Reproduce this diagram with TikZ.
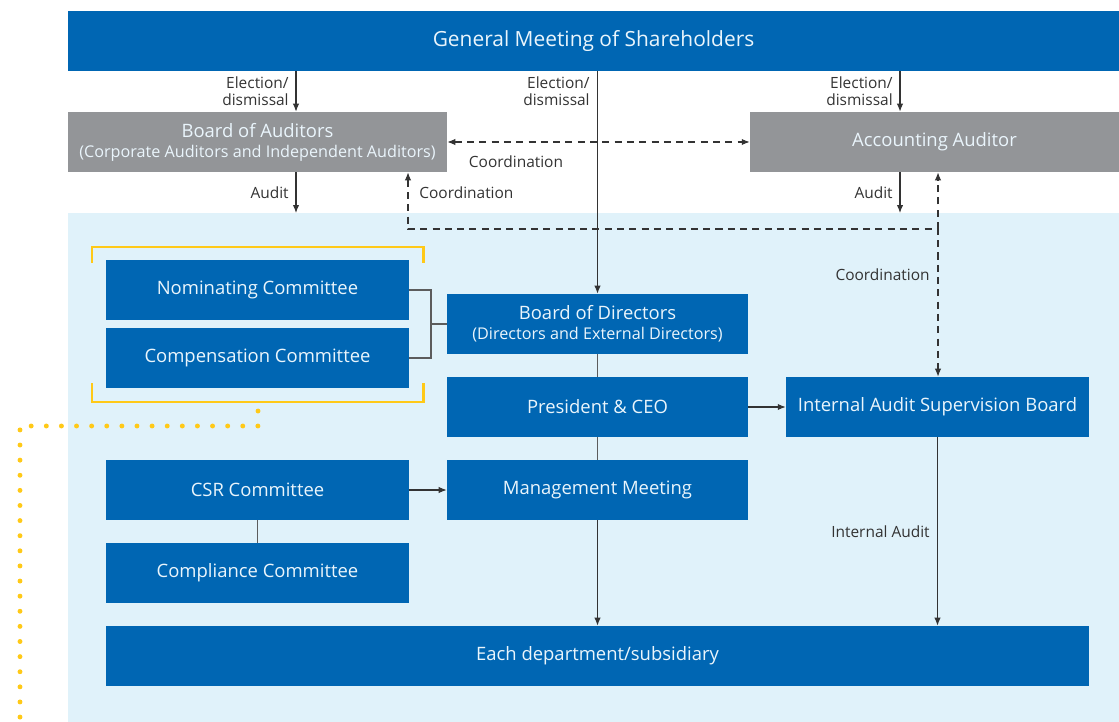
\documentclass[tikz,border=0pt]{standalone}
\usepackage{fontspec}
\setmainfont{Open Sans}
\usepackage{tikz}
\usetikzlibrary{arrows.meta,positioning,calc}
\usepackage{xcolor}
\definecolor{CGblue}{HTML}{0066B3}
\definecolor{CGlightblue}{HTML}{E0F2FA}
\definecolor{CGgray}{HTML}{939598}
\definecolor{CGyellow}{HTML}{FFC917}
\definecolor{CGtext}{HTML}{333333}
\definecolor{CGwhite}{HTML}{EAF5FC}

\begin{document}
\begin{tikzpicture}[
    orgbox/.style={fill=CGblue,text=CGwhite,minimum height=1.2cm,inner sep=0pt,align=center,font=\fontsize{10.5}{12.5}\selectfont},
    graybox/.style={orgbox,fill=CGgray},
    lbl/.style={text=CGtext,font=\fontsize{8.8}{10}\selectfont,inner sep=0pt,align=right},
    arr/.style={draw=CGtext,line width=0.6pt,-{Latex[length=4.5pt,width=3.6pt]}},
    link/.style={draw=CGtext!80,line width=0.6pt},
    coordline/.style={draw=CGtext,line width=0.6pt,dashed,dash pattern=on 4pt off 3pt}
  ]
  \useasboundingbox (0,0) rectangle (22.38,-14.44);
  % background of the executive area
  \node[fill=CGlightblue,minimum width=21.02cm,minimum height=10.18cm,inner sep=0pt,anchor=north west] (bg) at (1.36,-4.26) {};

  % top row
  \node[orgbox,minimum width=21.02cm,font=\fontsize{11.9}{14}\selectfont] (gms) at (11.87,-0.82) {General Meeting of Shareholders};
  \node[graybox,minimum width=7.58cm] (boa) at (5.15,-2.84) {Board of Auditors\\[-1pt]{\fontsize{9.2}{10.5}\selectfont (Corporate Auditors and Independent Auditors)}};
  \node[graybox,minimum width=7.38cm] (aa) at (18.69,-2.84) {Accounting Auditor};

  % committees and management
  \node[orgbox,minimum width=6.06cm] (nom) at (5.15,-5.8) {Nominating Committee};
  \node[orgbox,minimum width=6.06cm] (comp) at (5.15,-7.16) {Compensation Committee};
  \node[orgbox,minimum width=6.02cm] (bod) at (11.95,-6.48) {Board of Directors\\[-1pt]{\fontsize{9.2}{10.5}\selectfont (Directors and External Directors)}};
  \node[orgbox,minimum width=6.02cm] (ceo) at (11.95,-8.14) {President \& CEO};
  \node[orgbox,minimum width=6.02cm] (mm) at (11.95,-9.8) {Management Meeting};
  \node[orgbox,minimum width=6.06cm] (iasb) at (18.75,-8.14) {Internal Audit Supervision Board};
  \node[orgbox,minimum width=6.06cm] (csr) at (5.15,-9.8) {CSR Committee};
  \node[orgbox,minimum width=6.06cm] (cc) at (5.15,-11.46) {Compliance Committee};
  \node[orgbox,minimum width=19.66cm] (dept) at (11.95,-13.12) {Each department/subsidiary};

  \coordinate (xl) at (5.92,0);
  \coordinate (xr) at (18.0,0);
  \coordinate (xc) at (8.16,0);
  \coordinate (cr) at (18.76,-4.58);
  \coordinate (jn) at (8.62,-6.48);

  % election / audit
  \draw[arr] (gms.south -| xl) -- (boa.north -| xl);
  \draw[arr] (gms.south -| bod.north) -- (bod.north);
  \draw[arr] (gms.south -| xr) -- (aa.north -| xr);
  \draw[arr] (boa.south -| xl) -- (bg.north -| xl);
  \draw[arr] (aa.south -| xr) -- (bg.north -| xr);
  \node[lbl,anchor=east] (el1) at (5.78,-1.82) {Election/\\dismissal};
  \node[lbl,anchor=east] (el2) at (11.8,-1.82) {Election/\\dismissal};
  \node[lbl,anchor=east] (el3) at (17.86,-1.82) {Election/\\dismissal};
  \node[lbl,anchor=east] (au1) at (5.78,-3.86) {Audit};
  \node[lbl,anchor=east] (au2) at (17.86,-3.86) {Audit};

  % coordination
  \draw[coordline,{Latex[length=4.5pt,width=3.6pt]}-{Latex[length=4.5pt,width=3.6pt]}] (boa.east) -- (aa.west);
  \draw[coordline,{Latex[length=4.5pt,width=3.6pt]}-{Latex[length=4.5pt,width=3.6pt]}] (boa.south -| xc) |- (cr) -- (iasb.north -| cr);
  \draw[coordline,-{Latex[length=4.5pt,width=3.6pt]}] (cr) -- (aa.south -| cr);
  \node[lbl] (co1) at (10.32,-3.24) {Coordination};
  \node[lbl,anchor=west] (co2) at (8.38,-3.86) {Coordination};
  \node[lbl,anchor=east] (co3) at (18.6,-5.5) {Coordination};

  % internal links
  \draw[link] (nom.east) -| (jn) |- (comp.east);
  \draw[link] (jn) -- (bod.west);
  \draw[link] (bod.south) -- (ceo.north);
  \draw[link] (ceo.south) -- (mm.north);
  \draw[arr] (mm.south) -- (dept.north -| mm.south);
  \draw[arr] (ceo.east) -- (iasb.west);
  \draw[arr] (csr.east) -- (mm.west);
  \draw[link] (csr.south) -- (cc.north);
  \draw[arr] (iasb.south) -- (dept.north -| iasb.south);
  \node[lbl,anchor=east] (ia) at (18.6,-10.64) {Internal Audit};

  % yellow bracket round the committees
  \draw[CGyellow,line width=1.7pt] (1.84,-5.26) -- (1.84,-4.94) -- (8.46,-4.94) -- (8.46,-5.26);
  \draw[CGyellow,line width=1.7pt] (1.84,-7.66) -- (1.84,-8.04) -- (8.46,-8.04) -- (8.46,-7.66);
  \draw[CGyellow,line width=2.8pt,line cap=round,dash pattern=on 0pt off 8.6pt] (5.16,-8.22) -- (5.16,-8.52) -- (0.4,-8.52) -- (0.4,-14.6);
\end{tikzpicture}
\end{document}
